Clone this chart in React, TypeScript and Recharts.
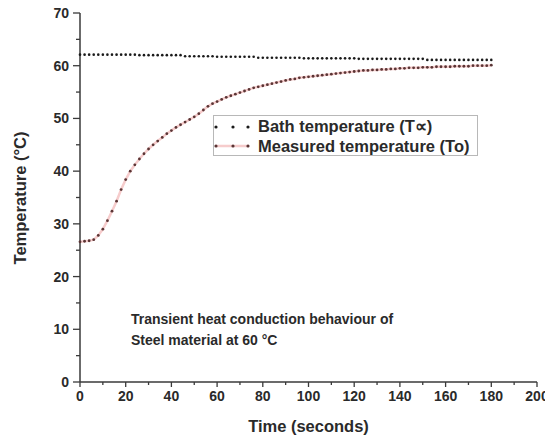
import React from 'react';
import { LineChart, Line, XAxis, YAxis, Legend, Label } from 'recharts';

const times = [0,2,4,6,8,10,12,14,16,18,20,22,24,26,28,30,32,34,36,38,40,42,44,46,48,50,52,54,56,58,60,62,64,66,68,70,72,74,76,78,80,82,84,86,88,90,92,94,96,98,100,102,104,106,108,110,112,114,116,118,120,122,124,126,128,130,132,134,136,138,140,142,144,146,148,150,152,154,156,158,160,162,164,166,168,170,172,174,176,178,180];

const bathTemp = [62.1,62.1,62.1,62.1,62.1,62.1,62.1,62.1,62.1,62.1,62.1,62.1,62.1,62.0,62.0,62.0,62.0,62.0,62.0,62.0,62.0,62.0,62.0,61.8,61.8,61.8,61.8,61.8,61.8,61.8,61.7,61.7,61.7,61.7,61.7,61.7,61.7,61.7,61.7,61.5,61.5,61.5,61.5,61.5,61.5,61.5,61.5,61.5,61.5,61.4,61.4,61.4,61.4,61.4,61.4,61.4,61.4,61.4,61.4,61.4,61.4,61.3,61.3,61.3,61.3,61.3,61.3,61.3,61.3,61.3,61.3,61.3,61.3,61.3,61.3,61.3,61.1,61.1,61.1,61.1,61.1,61.1,61.1,61.1,61.1,61.1,61.1,61.1,61.1,61.1,61.1];

const measuredTemp = [26.6,26.7,26.8,27.0,27.8,29.0,30.6,32.4,34.3,36.5,38.4,40.0,41.2,42.3,43.3,44.2,45.0,45.7,46.4,47.1,47.7,48.3,48.8,49.3,49.8,50.3,50.9,51.6,52.3,52.8,53.2,53.6,54.0,54.3,54.6,54.9,55.2,55.5,55.8,56.0,56.2,56.4,56.6,56.8,57.0,57.2,57.4,57.5,57.7,57.8,57.9,58.0,58.1,58.2,58.3,58.4,58.5,58.6,58.7,58.8,58.9,59.0,59.1,59.1,59.2,59.2,59.3,59.3,59.4,59.4,59.5,59.5,59.6,59.6,59.6,59.7,59.7,59.7,59.8,59.8,59.8,59.8,59.9,59.9,59.9,59.9,60.0,60.0,60.0,60.0,60.1];

const xTicks = [0,10,20,30,40,50,60,70,80,90,100,110,120,130,140,150,160,170,180,190,200];
const yTicks = [0,5,10,15,20,25,30,35,40,45,50,55,60,65,70];

const seriesNames = ['Bath temperature (T\u221D)', 'Measured temperature (To)'];
const xTitle = 'Time (seconds)';
const yTitle = 'Temperature (\u00B0C)';
const noteLines = ['Transient heat conduction behaviour of', 'Steel material at 60 \u00B0C'];

const data = times.map((t, i) => ({ t, bath: bathTemp[i], measured: measuredTemp[i] }));

const FONT = '"Liberation Sans", Arial, sans-serif';
const AX = '#3a3a3a';
const TXT = '#2a2a2a';

const BottomTick = (p: any) => {
  const { x, y, payload } = p;
  const major = payload.value % 20 === 0;
  return (
    <g>
      <line x1={x} x2={x} y1={y} y2={y + (major ? 5 : 3)} stroke={AX} strokeWidth={1.3} />
      {major && (
        <text x={x} y={y + 19} textAnchor="middle" fontFamily={FONT} fontWeight="bold" fontSize={14} fill={TXT}>
          {payload.value}
        </text>
      )}
    </g>
  );
};

const TopTick = (p: any) => {
  const { x, y, payload } = p;
  const major = payload.value % 20 === 0;
  return <line x1={x} x2={x} y1={y} y2={y + (major ? 5 : 3)} stroke={AX} strokeWidth={1.3} />;
};

const LeftTick = (p: any) => {
  const { x, y, payload } = p;
  const major = payload.value % 10 === 0;
  return (
    <g>
      <line x1={x - (major ? 7 : 4)} x2={x} y1={y} y2={y} stroke={AX} strokeWidth={1.3} />
      {major && (
        <text x={x - 11} y={y + 5} textAnchor="end" fontFamily={FONT} fontWeight="bold" fontSize={14} fill={TXT}>
          {payload.value}
        </text>
      )}
    </g>
  );
};

const RightTick = (p: any) => {
  const { x, y, payload } = p;
  const major = payload.value % 10 === 0;
  return <line x1={x - (major ? 6 : 3)} x2={x} y1={y} y2={y} stroke={AX} strokeWidth={1.3} />;
};

const BathDot = (p: any) => {
  const { cx, cy, index } = p;
  return <circle key={'b' + index} cx={cx} cy={cy} r={1.3} fill="#1a1a1a" />;
};
const MeasDot = (p: any) => {
  const { cx, cy, index } = p;
  return <circle key={'m' + index} cx={cx} cy={cy} r={1.4} fill="#5a3535" />;
};

const LegendBox = (props: any) => {
  const { payload } = props;
  const items = (payload || []).slice().sort((a: any, b: any) => (a.dataKey === 'bath' ? -1 : 1));
  return (
    <div
      style={{
        border: '1px solid #b8b8b8',
        width: 265,
        height: 41,
        boxSizing: 'border-box',
        padding: '1px 0 0 0',
        fontFamily: FONT,
        fontWeight: 'bold',
        fontSize: 16.5,
        color: TXT,
        background: '#fff',
        textAlign: 'left',
      }}
    >
      {items.map((e: any, i: number) => (
        <div key={i} style={{ display: 'flex', alignItems: 'center', height: 19.5, whiteSpace: 'nowrap' }}>
          <svg width={44} height={10} style={{ flex: 'none' }}>
            {e.dataKey === 'measured' && <line x1={1} x2={35} y1={5} y2={5} stroke="#f6cccc" strokeWidth={2.5} />}
            <circle cx={2} cy={5} r={1.6} fill={e.dataKey === 'bath' ? '#1a1a1a' : '#5a3535'} />
            <circle cx={19} cy={5} r={1.6} fill={e.dataKey === 'bath' ? '#1a1a1a' : '#5a3535'} />
            <circle cx={34} cy={5} r={1.6} fill={e.dataKey === 'bath' ? '#1a1a1a' : '#5a3535'} />
          </svg>
          <span>{e.value}</span>
        </div>
      ))}
    </div>
  );
};

const XTitle = (p: any) => {
  const vb = p.viewBox || { x: 80, width: 457 };
  return (
    <text x={vb.x + vb.width / 2} y={432} textAnchor="middle" fontFamily={FONT} fontWeight="bold" fontSize={16.5} fill={TXT}>
      {xTitle}
    </text>
  );
};

const YTitle = () => (
  <text
    x={20}
    y={198}
    transform="rotate(-90, 20, 198)"
    textAnchor="middle"
    dominantBaseline="central"
    fontFamily={FONT}
    fontWeight="bold"
    fontSize={16.5}
    fill={TXT}
  >
    {yTitle}
  </text>
);

export default function App() {
  return (
    <div style={{ position: 'absolute', left: 0, top: 0, width: 545, height: 439, background: '#fff', overflow: 'hidden' }}>
      <LineChart width={545} height={439} data={data} margin={{ top: 13, right: 8, left: 0, bottom: 0 }}>
        <XAxis
          dataKey="t"
          type="number"
          domain={[0, 200]}
          ticks={xTicks}
          interval={0}
          height={57}
          tickSize={0}
          tickMargin={0}
          tickLine={false}
          tick={<BottomTick />}
          axisLine={{ stroke: AX, strokeWidth: 1.5 }}
        >
          <Label content={<XTitle />} />
        </XAxis>
        <XAxis
          xAxisId="top"
          dataKey="t"
          orientation="top"
          type="number"
          domain={[0, 200]}
          ticks={xTicks}
          interval={0}
          height={0}
          tickSize={0}
          tickMargin={0}
          tickLine={false}
          tick={<TopTick />}
          axisLine={{ stroke: AX, strokeWidth: 1.5 }}
        />
        <YAxis
          type="number"
          domain={[0, 70]}
          ticks={yTicks}
          interval={0}
          width={80}
          tickSize={0}
          tickMargin={0}
          tickLine={false}
          tick={<LeftTick />}
          axisLine={{ stroke: AX, strokeWidth: 1.5 }}
        >
          <Label content={<YTitle />} />
        </YAxis>
        <YAxis
          yAxisId="right"
          orientation="right"
          type="number"
          domain={[0, 70]}
          ticks={yTicks}
          interval={0}
          width={0}
          tickSize={0}
          tickMargin={0}
          tickLine={false}
          tick={<RightTick />}
          axisLine={{ stroke: AX, strokeWidth: 1.5 }}
        />
        <Legend
          layout="horizontal"
          align="center"
          verticalAlign="middle"
          wrapperStyle={{ position: 'absolute', left: 213, top: 115, width: 265, height: 41 }}
          content={<LegendBox />}
        />
        <Line
          dataKey="measured"
          name={seriesNames[1]}
          stroke="#f6cccc"
          strokeWidth={2.5}
          dot={<MeasDot />}
          activeDot={false}
          isAnimationActive={false}
        />
        <Line
          dataKey="bath"
          name={seriesNames[0]}
          stroke="none"
          dot={<BathDot />}
          activeDot={false}
          isAnimationActive={false}
        />
      </LineChart>
      <div
        style={{
          position: 'absolute',
          left: 131,
          top: 309,
          fontFamily: FONT,
          fontWeight: 'bold',
          fontSize: 14,
          lineHeight: '21px',
          color: TXT,
          whiteSpace: 'nowrap',
        }}
      >
        <div>{noteLines[0]}</div>
        <div>{noteLines[1]}</div>
      </div>
    </div>
  );
}
